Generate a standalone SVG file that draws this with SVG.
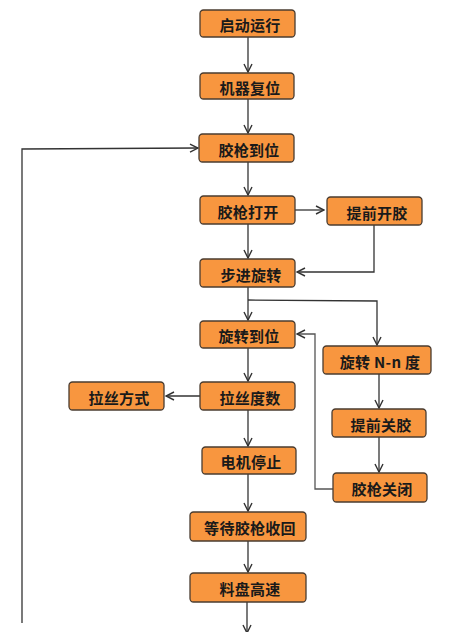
<svg xmlns="http://www.w3.org/2000/svg" width="450" height="632" viewBox="0 0 450 632">
<style>
.box{fill:#F8963F;stroke:#4a3c30;stroke-width:1.3}
.t{font-family:"Noto Sans CJK SC","Liberation Sans",sans-serif;font-size:15px;font-weight:bold;fill:#1a1a1a;text-anchor:middle;dominant-baseline:central;letter-spacing:0.3px}
.c{fill:none;stroke:#333;stroke-width:1.3}
</style>
<defs>
<marker id="ah" viewBox="0 0 10 10" refX="9" refY="5" markerWidth="10" markerHeight="10" markerUnits="userSpaceOnUse" orient="auto">
<polyline points="1,1 9,5 1,9" fill="none" stroke="#333" stroke-width="1.4"/>
</marker>
</defs>
<rect width="450" height="632" fill="#fff"/>
<g id="connectors">
<line class="c" x1="248" y1="37" x2="248" y2="72" marker-end="url(#ah)"/>
<line class="c" x1="248" y1="99" x2="248" y2="133" marker-end="url(#ah)"/>
<line class="c" x1="248" y1="162" x2="248" y2="195" marker-end="url(#ah)"/>
<line class="c" x1="295" y1="210" x2="324" y2="210" marker-end="url(#ah)"/>
<line class="c" x1="248" y1="224" x2="248" y2="258" marker-end="url(#ah)"/>
<polyline class="c" points="374,225 374,272 297,272" marker-end="url(#ah)"/>
<line class="c" x1="248" y1="287" x2="248" y2="320" marker-end="url(#ah)"/>
<polyline class="c" points="248,300 377,301 377,345" marker-end="url(#ah)"/>
<line class="c" x1="248" y1="348" x2="248" y2="381" marker-end="url(#ah)"/>
<line class="c" x1="200" y1="396" x2="166" y2="396" marker-end="url(#ah)"/>
<line class="c" x1="248" y1="410" x2="248" y2="446" marker-end="url(#ah)"/>
<line class="c" x1="379" y1="374" x2="379" y2="408" marker-end="url(#ah)"/>
<line class="c" x1="379" y1="437" x2="379" y2="472" marker-end="url(#ah)"/>
<polyline class="c" points="333,489 315,489 315,334 297,334" marker-end="url(#ah)" style="stroke:#555"/>
<line class="c" x1="248" y1="474" x2="248" y2="511" marker-end="url(#ah)"/>
<line class="c" x1="248" y1="541" x2="248" y2="572" marker-end="url(#ah)"/>
<line class="c" x1="247" y1="602" x2="247" y2="633" marker-end="url(#ah)"/>
<polyline class="c" points="22,623 22,149 198,148" marker-end="url(#ah)"/>
</g>
<g id="n1"><rect class="box" x="200" y="10" width="95" height="27" rx="3.5"/><text class="t" x="250" y="24">启动运行</text></g>
<g id="n2"><rect class="box" x="200" y="73" width="94" height="26" rx="3.5"/><text class="t" x="250" y="87">机器复位</text></g>
<g id="n3"><rect class="box" x="199" y="134" width="95" height="28" rx="3.5"/><text class="t" x="249" y="149">胶枪到位</text></g>
<g id="n4"><rect class="box" x="200" y="196" width="95" height="28" rx="3.5"/><text class="t" x="248" y="211">胶枪打开</text></g>
<g id="n5"><rect class="box" x="327" y="197" width="95" height="28" rx="3.5"/><text class="t" x="377" y="212">提前开胶</text></g>
<g id="n6"><rect class="box" x="200" y="259" width="95" height="28" rx="3.5"/><text class="t" x="251" y="274">步进旋转</text></g>
<g id="n7"><rect class="box" x="200" y="321" width="95" height="27" rx="3.5"/><text class="t" x="249" y="335">旋转到位</text></g>
<g id="n8"><rect class="box" x="323" y="346" width="108" height="28" rx="3.5"/><text class="t" x="380" y="361">旋转 N-n 度</text></g>
<g id="n9"><rect class="box" x="69" y="382" width="95" height="28" rx="3.5"/><text class="t" x="119" y="397">拉丝方式</text></g>
<g id="n10"><rect class="box" x="200" y="382" width="95" height="28" rx="3.5"/><text class="t" x="250" y="397">拉丝度数</text></g>
<g id="n11"><rect class="box" x="332" y="409" width="94" height="28" rx="3.5"/><text class="t" x="381" y="424">提前关胶</text></g>
<g id="n12"><rect class="box" x="202" y="447" width="94" height="27" rx="3.5"/><text class="t" x="251" y="461">电机停止</text></g>
<g id="n13"><rect class="box" x="333" y="473" width="94" height="29" rx="3.5"/><text class="t" x="382" y="488">胶枪关闭</text></g>
<g id="n14"><rect class="box" x="190" y="512" width="116" height="29" rx="3.5"/><text class="t" x="250" y="527">等待胶枪收回</text></g>
<g id="n15"><rect class="box" x="190" y="573" width="116" height="29" rx="3.5"/><text class="t" x="250" y="588">料盘高速</text></g>
</svg>
